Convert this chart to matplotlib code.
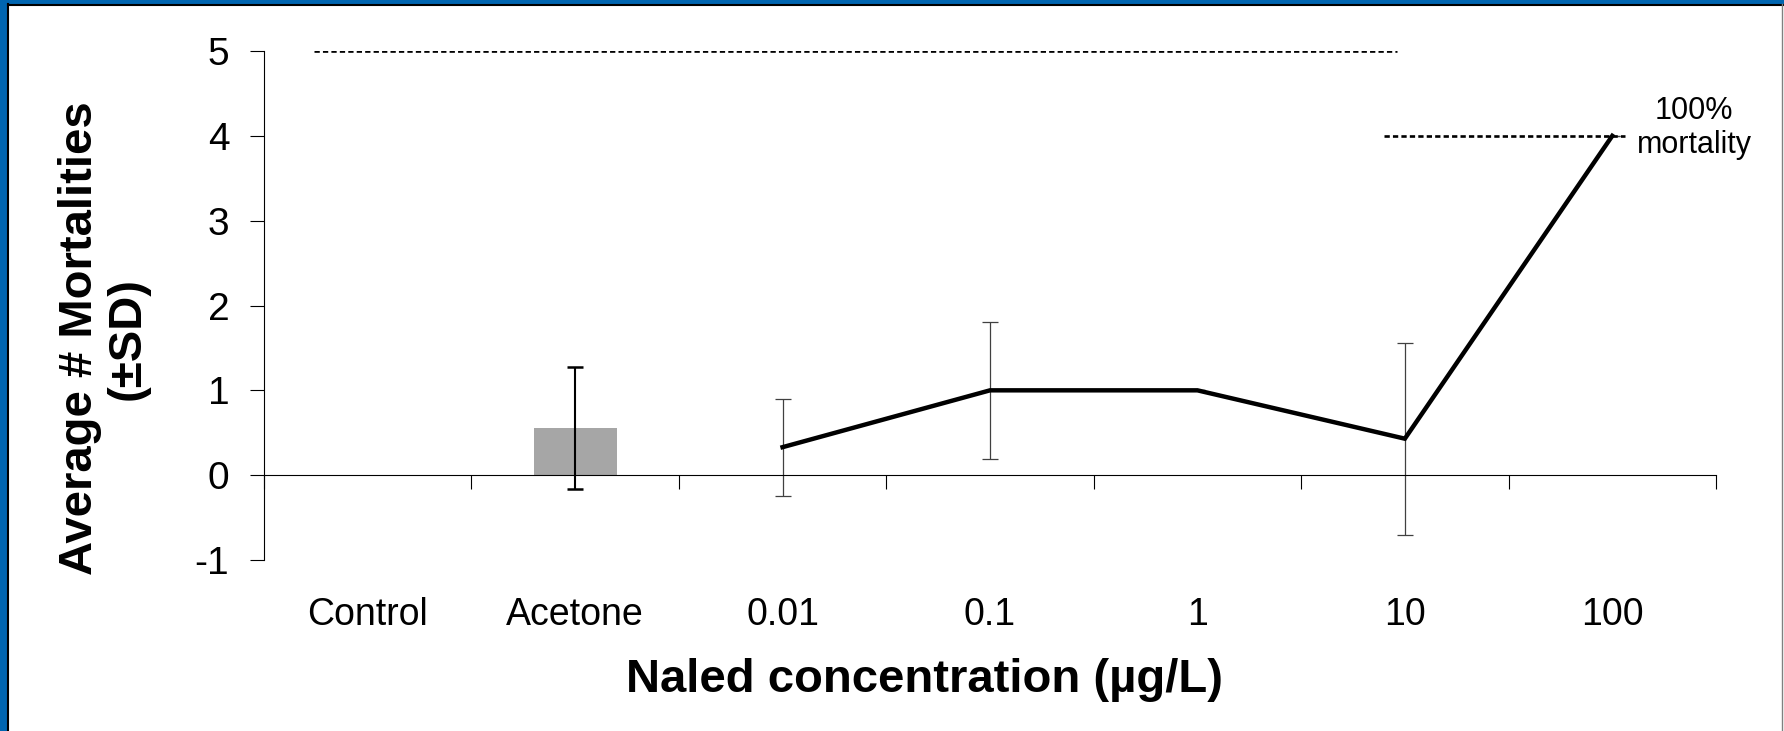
import matplotlib
matplotlib.use("Agg")
import matplotlib.pyplot as plt
from matplotlib.patches import Rectangle
from matplotlib.lines import Line2D

# data
categories = ["Control", "Acetone", "0.01", "0.1", "1", "10", "100"]
solvent_idx = [0, 1]
solvent_means = [0.0, 0.56]
solvent_sd = [0.0, 0.72]
naled_idx = [2, 3, 4, 5, 6]
naled_means = [0.33, 1.0, 1.0, 0.43, 4.0]
naled_sd = [0.57, 0.81, 0.0, 1.13, 0.0]
yticks = [-1, 0, 1, 2, 3, 4, 5]

# reference lines: total (5) and 100% mortality (4)
total_level = 5
total_span = (-0.26, 4.96)
full_mort_level = 4
full_mort_span = (4.90, 6.06)

tick_font = ["Liberation Sans Narrow", "Liberation Sans"]
label_font = ["Liberation Sans", "DejaVu Sans"]

W, H = 1784, 731
fig = plt.figure(figsize=(W / 100, H / 100), dpi=100)
fig.patch.set_facecolor("white")
ax = fig.add_axes([264 / W, 1 - 560 / H, (1716 - 264) / W, (560 - 51) / H])

ax.bar(solvent_idx, solvent_means, width=0.4, color="#a6a6a6", zorder=1)
ax.errorbar(solvent_idx[1:], solvent_means[1:], yerr=solvent_sd[1:], fmt="none",
            ecolor="black", elinewidth=1.5, capsize=6, capthick=1.8, zorder=2)
ax.errorbar(naled_idx, naled_means, yerr=naled_sd, fmt="none",
            ecolor="#404040", elinewidth=0.9, capsize=6, capthick=0.9, zorder=2)
ax.plot(naled_idx, naled_means, color="black", lw=3.2,
        solid_joinstyle="miter", zorder=3)

dash = (0, (2.0, 1.2))
ax.hlines(total_level, *total_span, colors="black", lw=1.9,
          linestyles=[dash], zorder=2)
ax.hlines(full_mort_level, *full_mort_span, colors="black", lw=1.9,
          linestyles=[dash], zorder=2)
ax.text(6.395, 4.09, "100%\nmortality", ha="center", va="center",
        fontsize=22, family=label_font, linespacing=1.2)

ax.set_xlim(-0.5, 6.5)
ax.set_ylim(-1, 5)
ax.spines["top"].set_visible(False)
ax.spines["right"].set_visible(False)
ax.spines["bottom"].set_position(("data", 0))
ax.spines["left"].set_linewidth(0.8)
ax.spines["bottom"].set_linewidth(0.8)

ax.set_yticks(yticks)
ax.set_yticklabels([str(v) for v in yticks], family=tick_font, fontsize=28)
ax.tick_params(axis="y", direction="out", length=10, width=0.8, pad=15)

ax.set_xticks(range(len(categories)))
ax.set_xticklabels(categories, family=tick_font, fontsize=27)
ax.set_xticks([i - 0.5 for i in range(len(categories) + 1)], minor=True)
ax.tick_params(axis="x", which="major", length=0, pad=88)
ax.tick_params(axis="x", which="minor", direction="out", length=10, width=0.8)

fig.text(924 / W, 1 - 680 / H, "Naled concentration (\u00b5g/L)", ha="center",
         va="center", fontsize=34, fontweight="bold", family=label_font)
fig.text(104 / W, 1 - 338 / H, "Average # Mortalities\n(\u00b1SD)", ha="center",
         va="center", rotation=90, fontsize=34, fontweight="bold",
         family=label_font, linespacing=1.1, multialignment="center")

# slide frame
blue = "#0065b0"
fig.patches.append(Rectangle((0, 0), 7 / W, 1, transform=fig.transFigure,
                             color=blue, zorder=0))
fig.patches.append(Rectangle((0, 1 - 4 / H), 1, 4 / H, transform=fig.transFigure,
                             color=blue, zorder=0))
fig.lines.append(Line2D([8 / W, 8 / W], [0, 1 - 4 / H], transform=fig.transFigure,
                        color="black", lw=1.5))
fig.lines.append(Line2D([8 / W, 1], [1 - 5 / H, 1 - 5 / H], transform=fig.transFigure,
                        color="black", lw=1.5))
fig.lines.append(Line2D([1782 / W, 1782 / W], [0, 1 - 4 / H], transform=fig.transFigure,
                        color="#808080", lw=1))

fig.savefig("out.png", dpi=100)
plt.close()
